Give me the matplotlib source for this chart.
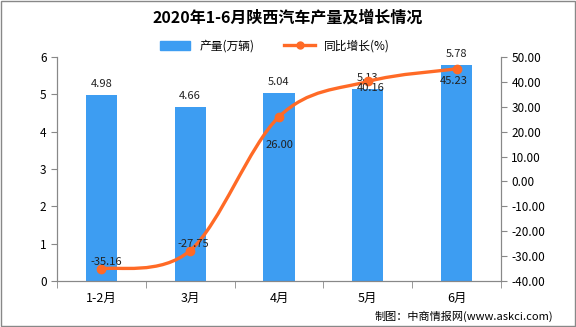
import matplotlib.pyplot as plt
from matplotlib.path import Path
from matplotlib.patches import PathPatch, Rectangle
from matplotlib.lines import Line2D
import numpy as np

plt.rcParams['font.family'] = ['Noto Sans CJK SC', 'DejaVu Sans']

# ─── 데이터 ───
categories = ["1-2月", "3月", "4月", "5月", "6月"]
output = [4.98, 4.66, 5.04, 5.13, 5.78]          # 产量(万辆)
growth = [-35.16, -27.75, 26.00, 40.16, 45.23]   # 同比增长(%)
# 원본 그림의 증장률 라벨 위치 (픽셀 오프셋)
growth_offsets = [(5, 7), (3, 7), (0, -28), (3, -7), (-3, -12)]

BAR_COLOR = "#3D9DF2"
LINE_COLOR = "#FF6A26"
GRAY = "#888888"

fig = plt.figure(figsize=(5.76, 3.27), dpi=100)
ax = fig.add_axes([57 / 576, 1 - 281 / 327, (501 - 57) / 576, (281 - 57) / 327])
ax2 = ax.twinx()

x = np.arange(len(categories))
ax.bar(x, output, width=0.35, color=BAR_COLOR, zorder=2)
for xi, v in zip(x, output):
    ax.annotate(f"{v:.2f}", (xi, v), xytext=(0, 11), textcoords="offset pixels",
                ha="center", va="center", fontsize=8, color="#222222")

ax.set_xlim(-0.5, len(categories) - 0.5)
ax.set_ylim(0, 6)
ax.set_yticks(range(0, 7))
ax.set_xticks(x)
ax.set_xticklabels(categories, fontsize=9)
ax.set_xticks(np.arange(-0.5, len(categories)), minor=True)
ax.tick_params(axis="x", which="major", length=0, pad=8)
ax.tick_params(axis="x", which="minor", length=5, color=GRAY, direction="out")
ax.tick_params(axis="y", labelsize=8.5, length=4, color=GRAY)

ax2.set_ylim(-40, 50)
ax2.set_yticks(range(-40, 51, 10))
ax2.set_yticklabels([f"{t:.2f}" for t in range(-40, 51, 10)])
ax2.tick_params(axis="y", labelsize=8.5, length=4, color=GRAY)

for a in (ax, ax2):
    a.spines["top"].set_visible(False)
    for side in ("left", "right", "bottom"):
        a.spines[side].set_color(GRAY)

# 부드러운 곡선 (Catmull-Rom -> Bezier)
pts = np.column_stack([x, growth]).astype(float)
verts = [pts[0]]
codes = [Path.MOVETO]
for i in range(len(pts) - 1):
    p0 = pts[i - 1] if i > 0 else pts[i]
    p1, p2 = pts[i], pts[i + 1]
    p3 = pts[i + 2] if i + 2 < len(pts) else pts[i + 1]
    c1 = p1 + (p2 - p0) / 6
    c2 = p2 - (p3 - p1) / 6
    verts += [c1, c2, p2]
    codes += [Path.CURVE4] * 3
ax2.add_patch(PathPatch(Path(verts, codes), fill=False, edgecolor=LINE_COLOR, lw=2.4, zorder=3))
ax2.plot(x, growth, "o", color=LINE_COLOR, markersize=6, zorder=4)
for xi, v, (dx, dy) in zip(x, growth, growth_offsets):
    ax2.annotate(f"{v:.2f}", (xi, v), xytext=(dx, dy), textcoords="offset pixels",
                 ha="center", va="center", fontsize=8, color="#222222", zorder=5)

fig.text(0.5, 1 - 18 / 327, "2020年1-6月陕西汽车产量及增长情况", ha="center", va="center",
         fontsize=11.5, fontweight="bold")

handles = [Rectangle((0, 0), 1, 1, color=BAR_COLOR),
           Line2D([], [], color=LINE_COLOR, lw=2.4, marker="o", markersize=5)]
fig.legend(handles, ["产量(万辆)", "同比增长(%)"], loc="center", bbox_to_anchor=(275 / 576, 1 - 46 / 327),
           ncol=2, frameon=False, fontsize=8.5, handlelength=2.6, columnspacing=2.5)

fig.text(553 / 576, 1 - 316 / 327, "制图：中商情报网(www.askci.com)", ha="right", va="center", fontsize=8)

fig.add_artist(Rectangle((0.001, 0.002), 0.997, 0.995, transform=fig.transFigure,
                         fill=False, edgecolor=GRAY, lw=1))

fig.savefig("out.png", dpi=100)
